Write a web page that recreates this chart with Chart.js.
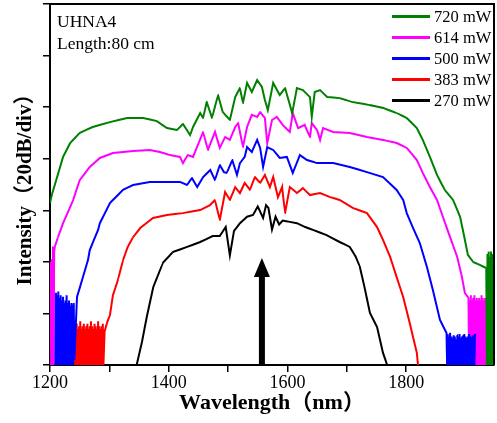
<!DOCTYPE html>
<html><head><meta charset="utf-8">
<script src="https://cdn.jsdelivr.net/npm/chart.js@4.4.0/dist/chart.umd.min.js"></script>
<style>html,body{margin:0;padding:0;background:#fff}#wrap{width:497px;height:423px}</style>
</head><body><div id="wrap"><canvas id="c" width="497" height="423"></canvas></div>
<script>
const seriesLabels = ['720 mW', '614 mW', '500 mW', '383 mW', '270 mW'];
const seriesColors = ['#008000', '#ff00ff', '#0000ff', '#ff0000', '#000000'];

// 720 mW
const wl720 = [1200,1203,1212,1222,1234,1250,1272,1301,1330,1357,1380,1397,1414,1424,1436,1441,1453,1458,1464,1473,1483,1491,1503,1512,1520,1525,1532,1540,1549,1557,1562,1567,1576,1587,1596,1608,1616,1626,1638,1641,1646,1655,1667,1688,1710,1739,1761,1784,1801,1818,1828,1840,1852,1865,1879,1891,1899,1904,1913,1924,1935,
  1936,1937,1938,1939,1940,1941,1942,1943,1944,1945,1946,1947,1948];
const db720 = [62.8,65.9,72.9,80.7,86.1,90,92.3,94.2,95.8,95.8,94.6,91.9,91.1,93.5,89.2,92.3,97.7,95.8,102,95.8,104.7,98.1,95,103.9,107.4,101.6,109.4,105.9,110.5,107.8,102.8,98.9,109.4,104.7,107.4,97.7,107.4,106.6,103.9,96.2,105.9,106.6,103.9,103.5,102,100.8,99.7,97.7,95.8,91.9,87.3,80.7,73.7,67.9,64,57.4,48.5,42.7,39.9,38.8,37.6,
  0,43,0,44,0,42,0,44,0,43,0,42,0];

// 614 mW
const wl614 = [1201,1202,1203,1204,1205,1206,1207,1208,1213.5,1222,1234,1239,1250,1267,1284,1306,1340,1368,1385,1402,1419,1424,1432,1441,1449,1458,1466,1478,1486,1495,1503,1512,1517,1525,1532,1540,1549,1554,1562,1566,1574,1582,1592,1604,1609,1618,1629,1638,1641,1650,1655,1660,1677,1705,1734,1761,1784,1801,1818,1828,1840,1852,1862,1874,1886,1894,1899,1905,
  1906,1907,1908,1909,1910,1911,1912,1913,1914,1915,1916,1917,1918,1919,1920,1921,1922,1923,1924,1925,1926,1927,1928,1929,1930,1931,1932,1933,1934,1935,1936];
const db614 = [40,0,41,0,46,0,44,45.8,49.6,55,61.3,64,71.7,76.8,80.3,82.2,83,83.4,82.6,81.4,80.7,78.3,81.4,80.7,85.3,90.4,83.4,90.4,84.2,88.4,87.3,92.3,93.8,84.5,92.3,97,96.2,98.1,95.8,86,95,96.2,93.1,90.4,97.7,91.9,93.1,88.4,93.8,91.1,87.3,91.9,90.4,90,88.4,87.3,86.1,84.2,79.5,74.5,69,64,57.4,49.6,41.9,34.1,27.9,26,
  0,25,0,27,0,25,0,26,0,27,0,25,0,26,0,25,0,26,0,25,0,27,0,26,0,25,0,26,0,25,0];

// 500 mW
const wl500 = [1209,1210,1211,1212,1213,1214,1215,1216,1217,1218,1219,1220,1221,1222,1223,1224,1225,1226,1227,1228,1229,1230,1231,1232,1233,1234,1235,1236,1237,1238,1239,1240,1241,
  1245.5,1250.5,1255.5,1264,1267,1281,1284,1301,1306,1323,1340,1368,1397,1419,1431,1439,1448,1458,1470,1478,1486,1493,1498,1507,1515,1520,1528,1532,1540,1549,1554,1559,1566,1576,1587,1599,1609,1621,1633,1650,1677,1705,1734,1761,1784,1795,1801,1811,1823,1835,1845,1857,1868,
  1869,1870,1871,1872,1873,1874,1875,1876,1877,1878,1879,1880,1881,1882,1883,1884,1885,1886,1887,1888,1889,1890,1891,1892,1893,1894,1895,1896,1897,1898,1899,1900,1901,1902,1903,1904,1905,1906,1907,1908,1909,1910,1911,1912,1913,1914,1915,1916];
const db500 = [0,28,0,27,0,28.5,0,26,0,27,0,25,0,26.5,0,24,0,25,0,27,0,24,0,25,0,23,0,24,0,23.5,0,24,2,
  26.4,30.2,34.1,40.7,44.6,52.4,55,62.8,64,67.9,69.8,71,71,71,69.8,72.5,69,72.9,75.6,71.7,77.6,74.8,74.5,79.5,73.7,78.3,80.7,84.5,82.6,87.3,84.2,76.8,84.5,83.4,80.3,80.7,74.5,81.4,79.5,78.3,78.3,76.8,74.8,72.9,67.9,64,58.9,53.5,47.3,38,29.1,17.5,12.4,
  0,12,0,11,0,12.5,0,11,0,10.5,0,11.5,0,11,0,10,0,11.5,0,11,0,12,0,10.5,0,11,0,11.5,0,12,0,11,0,10.5,0,11,0,12,0,11,0,10.5,0,11.5,0,11,0,12];

// 383 mW
const wl383 = [1240,1241,1242,1243,1244,1245,1246,1247,1248,1249,1250,1251,1252,1253,1254,1255,1256,1257,1258,1259,1260,1261,1262,1263,1264,1265,1266,1267,1268,1269,1270,1271,1272,1273,1274,1275,1276,1277,1278,1279,1280,1281,1282,1283,1284,1285,1286,1287,1288,1289,1290,
  1292,1296,1301,1306,1314.5,1323,1331,1340,1352,1373.5,1397,1424,1453,1469.5,1478,1486,1495,1503,1512,1520,1528,1537,1545,1554,1562,1570.5,1576,1584,1591,1596,1604,1616,1626,1638,1655,1672,1688,1710,1734,1751,1761,1773,1784,1795,1806,1818,1820];
const db383 = [0,15,0,14,0,16,0,14,0,15,0,17,0,14,0,15,0,16,0,14,0,15,0,16,0,14,0,15,0,17,0,15,0,14,0,16,0,15,0,14,0,17,0,15,0,14,0,15,0,16,0,
  13,16.3,19.4,27.1,33,40.7,45.8,49.6,53.1,57,58.2,58.9,60.1,62,64,56.2,67.1,64,69,66.7,70.6,67.9,72.9,70.6,73.7,69,72.9,65.1,69,58.9,69,66.7,68.6,65.9,66.7,65.1,64,60.9,58.9,53.5,48.5,41.9,34.1,26.4,16.3,4.7,0];

// 270 mW
const wl270 = [1346,1355,1363,1374,1390,1407,1431,1453,1474,1486,1496,1503,1510,1520,1532,1542,1550,1555,1559,1564,1568,1574,1580,1586,1592,1604,1616,1630,1643,1666,1688,1705,1715,1722,1730,1739,1751,1761,1768];
const db270 = [0,9,18.6,30.2,39.6,43.8,45.8,47.7,50,50,53.5,42.5,52,55,57.5,58.2,61.5,59,57,62,60.9,52.5,57.5,54.5,56,55.5,55,53.5,52.4,50.4,47.7,45.8,42,38,30,20.2,14.7,4.7,0];

const xTickLabels = [1200, 1400, 1600, 1800];
const arrowWl = 1557;      // arrow position (nm)
const arrowTip = 41.5;     // arrow tip height (axis units)
const notes = ['UHNA4', 'Length:80 cm'];

const SERIF = "'Liberation Serif', 'Times New Roman', 'Noto Sans CJK SC', serif";
const toXY = (wl, db) => wl.map((x, i) => ({ x: x, y: db[i] }));
const allWl = [wl720, wl614, wl500, wl383, wl270];
const allDb = [db720, db614, db500, db383, db270];
const drawOrder = [0, 0, -1, 0, 0];

const datasets = seriesLabels.map((lab, i) => ({
  label: lab,
  data: toXY(allWl[i], allDb[i]),
  borderColor: seriesColors[i],
  backgroundColor: seriesColors[i],
  borderWidth: 2,
  pointRadius: 0,
  tension: 0.000001,
  fill: false,
  order: drawOrder[i]
}));

const framePlugin = {
  id: 'frame',
  afterDraw(chart) {
    const { ctx, chartArea: a } = chart;
    ctx.save();
    ctx.strokeStyle = '#000';
    ctx.lineWidth = 2;
    ctx.beginPath();
    ctx.moveTo(a.left, a.top);
    ctx.lineTo(a.right, a.top);
    ctx.lineTo(a.right, a.bottom);
    ctx.stroke();
    ctx.restore();
  }
};

const arrowPlugin = {
  id: 'arrow',
  afterDatasetsDraw(chart) {
    const { ctx, scales: { x, y } } = chart;
    const px = x.getPixelForValue(arrowWl);
    const y0 = y.getPixelForValue(0);
    const yt = y.getPixelForValue(arrowTip);
    const headH = 19, headW = 16, shaft = 6;
    ctx.save();
    ctx.fillStyle = '#000';
    ctx.fillRect(px - shaft / 2, yt + headH - 1, shaft, y0 - (yt + headH - 1));
    ctx.beginPath();
    ctx.moveTo(px, yt);
    ctx.lineTo(px + headW / 2, yt + headH);
    ctx.lineTo(px - headW / 2, yt + headH);
    ctx.closePath();
    ctx.fill();
    ctx.restore();
  }
};

const legendPlugin = {
  id: 'customLegend',
  afterDraw(chart) {
    const { ctx, chartArea: a } = chart;
    ctx.save();
    ctx.font = '16.5px ' + SERIF;
    ctx.textBaseline = 'alphabetic';
    ctx.textAlign = 'left';
    chart.data.datasets.forEach((d, i) => {
      const yb = a.top + 18 + i * 21;
      ctx.strokeStyle = d.borderColor;
      ctx.lineWidth = 3;
      ctx.beginPath();
      ctx.moveTo(a.right - 102, yb - 5.5);
      ctx.lineTo(a.right - 64, yb - 5.5);
      ctx.stroke();
      ctx.fillStyle = '#000';
      ctx.fillText(d.label, a.right - 60, yb);
    });
    ctx.restore();
  }
};

const notesPlugin = {
  id: 'notes',
  afterDraw(chart) {
    const { ctx, chartArea: a } = chart;
    ctx.save();
    ctx.font = '17.5px ' + SERIF;
    ctx.fillStyle = '#000';
    ctx.textBaseline = 'alphabetic';
    ctx.fillText(notes[0], a.left + 7, a.top + 23);
    ctx.fillText(notes[1], a.left + 7, a.top + 45);
    ctx.restore();
  }
};

new Chart(document.getElementById('c'), {
  type: 'line',
  data: { datasets: datasets },
  options: {
    responsive: false,
    animation: false,
    events: [],
    layout: { padding: { top: 4, right: 3, left: 0, bottom: 0 } },
    plugins: { legend: { display: false }, tooltip: { enabled: false } },
    scales: {
      x: {
        type: 'linear',
        min: 1200,
        max: 1948,
        afterFit(s) { s.height = 58; },
        afterBuildTicks(s) { s.ticks = s.ticks.filter(t => t.value % 100 === 0); },
        ticks: {
          stepSize: 100,
          autoSkip: false,
          maxRotation: 0,
          padding: 0,
          color: '#000',
          font: { family: SERIF, size: 18 },
          callback: v => xTickLabels.includes(v) ? String(v) : ''
        },
        grid: { drawOnChartArea: false, drawTicks: true, tickLength: 7, color: '#000', lineWidth: 1.5 },
        border: { display: true, color: '#000', width: 2 },
        title: {
          display: true,
          text: 'Wavelength（nm）',
          color: '#000',
          font: { family: SERIF, size: 22, weight: 'bold', lineHeight: 1 },
          padding: { top: 0, bottom: 9 }
        }
      },
      y: {
        min: 0,
        max: 140,
        afterFit(s) { s.width = 50; },
        ticks: { display: false, stepSize: 20 },
        grid: { drawOnChartArea: false, drawTicks: true, tickLength: 7, color: '#000', lineWidth: 1.5 },
        border: { display: true, color: '#000', width: 2 },
        title: {
          display: true,
          text: 'Intensity（20dB/div）',
          color: '#000',
          font: { family: SERIF, size: 21, weight: 'bold', lineHeight: 1 },
          padding: { top: 15, bottom: 0 }
        }
      }
    }
  },
  plugins: [framePlugin, arrowPlugin, legendPlugin, notesPlugin]
});
</script>
</body></html>
